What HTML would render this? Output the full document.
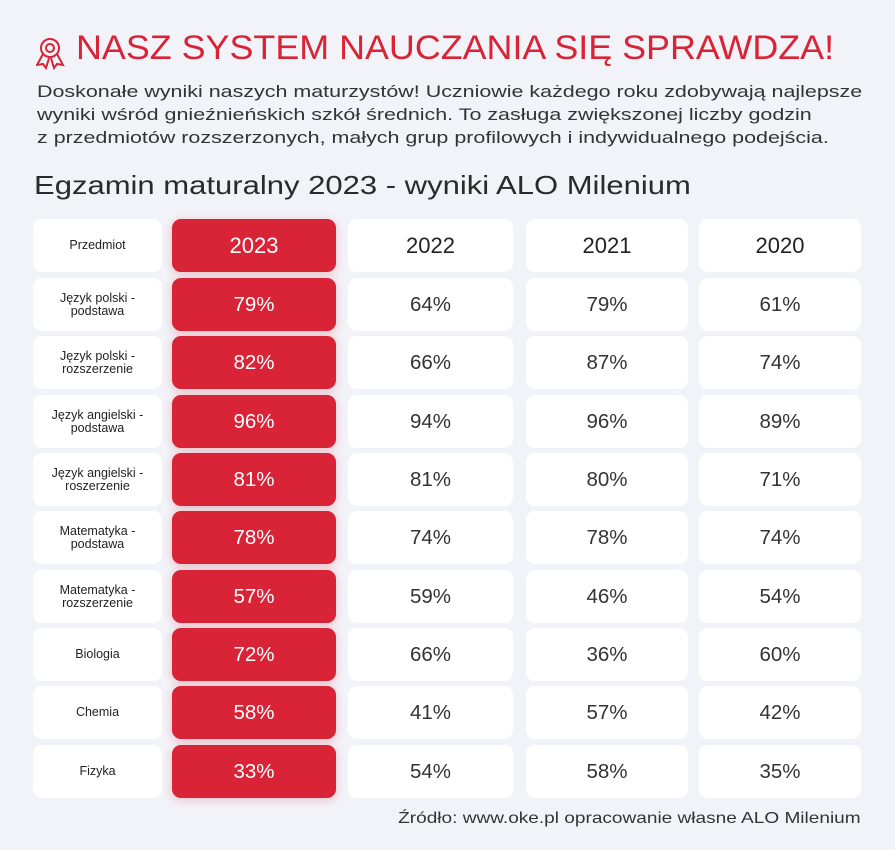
<!DOCTYPE html>
<html><head><meta charset="utf-8"><style>
body{margin:0;width:895px;height:850px;background:#f2f3f8;font-family:"Liberation Sans",sans-serif;position:relative;overflow:hidden;color:#2a2a2a}
.t{position:absolute;left:76px;top:29px;color:#d92336;font-size:34px;white-space:nowrap;transform-origin:0 0;transform:scaleX(1.055)}
.p{position:absolute;left:37px;top:80px;font-size:17px;line-height:23px;color:#333;white-space:nowrap;transform-origin:0 0;transform:scaleX(1.262)}
.h{position:absolute;left:34px;top:170px;font-size:26px;color:#2a2a2a;white-space:nowrap;transform-origin:0 0;transform:scaleX(1.193)}
.c{position:absolute;background:#fff;border-radius:9px;display:flex;align-items:center;justify-content:center;text-align:center;font-size:20.5px;color:#333;box-sizing:border-box}
.s{font-size:12.5px;line-height:13px;color:#222}
.hd{font-size:22px;color:#222}
.r{background:#d92336;color:#fff;box-shadow:0 2px 10px rgba(217,35,54,.25)}
.src{position:absolute;right:34px;top:810px;font-size:16px;color:#333;white-space:nowrap;transform-origin:100% 0;transform:scaleX(1.19)}
</style></head><body>
<svg style="position:absolute;left:36px;top:37px" width="30" height="33" viewBox="0 0 30 33" fill="none" stroke="#d92336" stroke-width="2"><circle cx="14" cy="11" r="9"/><circle cx="14" cy="11" r="4"/><path d="M7 17 L1 28 L7 27 L10 31 L13 21"/><path d="M21 17 L27 28 L21 27 L18 31 L15 21"/></svg>
<div class="t">NASZ SYSTEM NAUCZANIA SIĘ SPRAWDZA!</div>
<div class="p">Doskonałe wyniki naszych maturzystów! Uczniowie każdego roku zdobywają najlepsze<br>wyniki wśród gnieźnieńskich szkół średnich. To zasługa zwiększonej liczby godzin<br>z przedmiotów rozszerzonych, małych grup profilowych i indywidualnego podejścia.</div>
<div class="h">Egzamin maturalny 2023 - wyniki ALO Milenium</div>
<div id="g"></div>
<div class="src">Źródło: www.oke.pl opracowanie własne ALO Milenium</div>
<script>
var cols=[[33,129],[172,164],[348,165],[526,162],[699,162]];
var tops=[219,278,336,395,453,511,570,628,686,745];
var rows=[["Przedmiot","2023","2022","2021","2020"],
["Język polski -<br>podstawa","79%","64%","79%","61%"],
["Język polski -<br>rozszerzenie","82%","66%","87%","74%"],
["Język angielski -<br>podstawa","96%","94%","96%","89%"],
["Język angielski -<br>roszerzenie","81%","81%","80%","71%"],
["Matematyka -<br>podstawa","78%","74%","78%","74%"],
["Matematyka -<br>rozszerzenie","57%","59%","46%","54%"],
["Biologia","72%","66%","36%","60%"],
["Chemia","58%","41%","57%","42%"],
["Fizyka","33%","54%","58%","35%"]];
var h="";
rows.forEach(function(r,i){r.forEach(function(v,j){
var cl="c"+(j==0?" s":"")+(i==0&&j>0?" hd":"")+(j==1?" r":"");
h+='<div class="'+cl+'" style="left:'+cols[j][0]+'px;top:'+tops[i]+'px;width:'+cols[j][1]+'px;height:53px">'+v+'</div>';});});
document.getElementById("g").innerHTML=h;
</script>
</body></html>
